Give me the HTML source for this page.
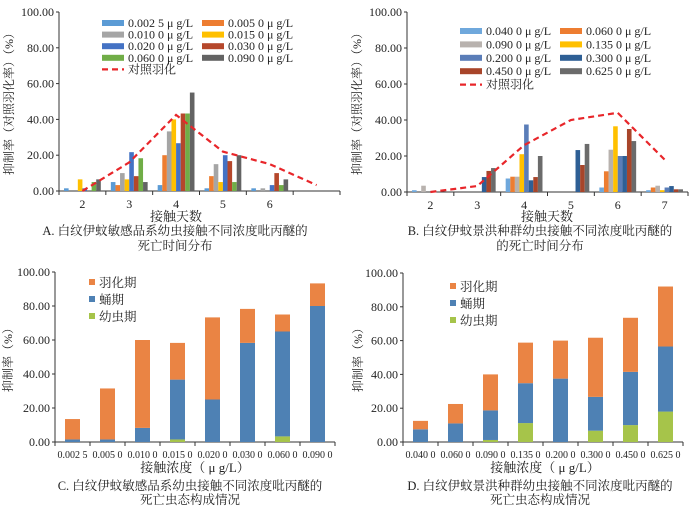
<!DOCTYPE html>
<html><head><meta charset="utf-8"><style>
html,body{margin:0;padding:0;background:#fff;}
svg{display:block;font-family:"Liberation Serif","Noto Serif CJK SC",serif;}
</style></head><body>
<svg id="fig" width="700" height="508" viewBox="0 0 700 508"></svg>
<script>
const aDays=["2","3","4","5","6",""];
const aSeriesNames=["0.002 5 μ g/L","0.005 0 μ g/L","0.010 0 μ g/L","0.015 0 μ g/L","0.020 0 μ g/L","0.030 0 μ g/L","0.060 0 μ g/L","0.090 0 μ g/L"];
const aValues=[
 [1.5,5,3.3,1.5,1.5,0],
 [0,3.3,20,8.3,0,0],
 [0,10,33.3,15,1.5,0],
 [6.5,6.5,40,5,0,0],
 [1.5,21.7,26.7,20,3.3,0],
 [0,8.3,43.3,16.7,10,0],
 [5,18.3,43.3,5,3.3,0],
 [6.5,5,55,20,6.5,0]];
const aControl=[0,16,42.5,22,15,3.3];
const bDays=["2","3","4","5","6","7"];
const bSeriesNames=["0.040 0 μ g/L","0.060 0 μ g/L","0.090 0 μ g/L","0.135 0 μ g/L","0.200 0 μ g/L","0.300 0 μ g/L","0.450 0 μ g/L","0.625 0 μ g/L"];
const bValues=[
 [1,0,7.5,0,2.5,1],
 [0,0,8.5,0,11.5,2.5],
 [3.5,0,8.5,0,23.5,3.5],
 [0,0,21,0,36.5,1],
 [0,0,37.5,0,20,2.5],
 [0,8.3,6.5,23.3,20,3.3],
 [0,11.7,8.3,15,35,1.5],
 [0,13.3,20,26.7,28.3,1.5]];
const bControl=[0,3.3,26,40,44,18];
const cCats=["0.002 5","0.005 0","0.010 0","0.015 0","0.020 0","0.030 0","0.060 0","0.090 0"];
const cLarva=[0,0,0,1.5,0,0,3.3,0];
const cPupa=[1.5,1.5,8.3,35.2,25,58.3,61.7,80];
const cEmerge=[12,30,51.7,21.6,48.3,20,10,13.3];
const dCats=["0.040 0","0.060 0","0.090 0","0.135 0","0.200 0","0.300 0","0.450 0","0.625 0"];
const dLarva=[0,0,1.2,11.2,0,6.7,10,18];
const dPupa=[7.5,11,17.5,23.6,37.5,20,31.5,38.5];
const dEmerge=[5,11.5,21.3,24,22.5,35,32,35.5];
const yTicks=["0.00","20.00","40.00","60.00","80.00","100.00"];

const NS="http://www.w3.org/2000/svg";
const svg=document.getElementById("fig");
function el(tag,attrs,parent,text){const e=document.createElementNS(NS,tag);for(const k in attrs)e.setAttribute(k,attrs[k]);if(text!==undefined)e.textContent=text;(parent||svg).appendChild(e);return e;}
const colA=["#5B9BD5","#ED7D31","#A5A5A5","#FFC000","#4472C4","#B5472B","#70AD47","#636363"];
const colB=["#6FA8DC","#ED7D31","#B8B2AE","#FFC000","#5A7DB8","#2E5F95","#A8452A","#6B6B6B"];
const stackCol=["#A6C44A","#4E81B4","#EA8444"];

function axes(g,x0,x1,yTop,yBot,nCat,cats,labY,fit){
  const ys=v=>yBot-(yBot-yTop)*v/100;
  const ax=el("line",{x1:x0,y1:yTop,x2:x0,y2:yBot,stroke:"#333","stroke-width":1},g);
  
  
  yTicks.forEach((t,i)=>{const v=i*20,y=ys(v);
    el("line",{x1:x0-3,y1:y,x2:x0,y2:y,stroke:"#333"},g);
    const tl=el("text",{x:x0-5,y:y+4,"text-anchor":"end","font-size":12,fill:"#222"},g,t);
    
    });
  const xa=el("line",{x1:x0,y1:yBot,x2:x1,y2:yBot,stroke:"#333"},g);
  
  
  const W=(x1-x0)/nCat;
  for(let i=0;i<=nCat;i++)el("line",{x1:x0+i*W,y1:yBot,x2:x0+i*W,y2:yBot+4,stroke:"#333"},g);
  cats.forEach((c,i)=>{const at={x:x0+(i+0.5)*W,y:labY,"text-anchor":"middle","font-size":fit?11:12,fill:"#222"};
    if(fit&&c){at.textLength=30;at.lengthAdjust="spacingAndGlyphs";}
    const tl=el("text",at,g,c);
    
    });
  return {ys,W};
}
function ylabel(g,x,y,t){const e=el("text",{x:x,y:y,"text-anchor":"middle","font-size":12,fill:"#222",transform:`rotate(-90 ${x} ${y})`},g,t);
  
  }
function txt(g,x,y,t,name,size){const e=el("text",{x:x,y:y,"text-anchor":"middle","font-size":size||12.5,fill:"#222"},g,t);
  
  }

function grouped(name,x0,x1,yTop,yBot,cats,vals,ctrl,cols,names,leg){
  const g=el("g",{},svg);
  
  
  const {ys,W}=axes(g,x0,x1,yTop,yBot,cats.length,cats,yBot+17,false);
  const bw=4.6,n=vals.length;
  vals.forEach((s,si)=>s.forEach((v,ci)=>{if(v<=0)return;
    const cx=x0+(ci+0.5)*W-n*bw/2+si*bw;
    const r=el("rect",{x:cx,y:ys(v),width:bw,height:ys(0)-ys(v),fill:cols[si]},g);
    
    }));
  const pts=ctrl.map((v,i)=>`${x0+(i+0.5)*W},${ys(v)}`).join(" ");
  const pl=el("polyline",{points:pts,fill:"none",stroke:"#E8262A","stroke-width":2.2,"stroke-dasharray":"6,4"},g);
  
  
  names.forEach((nm,i)=>{const col=i%2,row=Math.floor(i/2);
    const sx=leg.x+col*leg.dx,y=leg.y+row*leg.dy;
    el("rect",{x:sx,y:y-3,width:22,height:6,fill:cols[i]},g);
    const t=el("text",{x:sx+26,y:y+4,"font-size":12,fill:"#222"},g,nm);
    
    });
  const ly=leg.y+4*leg.dy;
  el("line",{x1:leg.x,y1:ly,x2:leg.x+22,y2:ly,stroke:"#E8262A","stroke-width":2.2,"stroke-dasharray":"6,4"},g);
  const lt=el("text",{x:leg.x+26,y:ly+4,"font-size":12,fill:"#222"},g,"对照羽化");
  
  
  return g;
}
function stacked(name,x0,x1,yTop,yBot,cats,layers,leg){
  const g=el("g",{},svg);
  
  
  const {ys,W}=axes(g,x0,x1,yTop,yBot,cats.length,cats,yBot+16,true);
  cats.forEach((c,ci)=>{let base=0;
    layers.forEach((L,li)=>{const v=L[ci];if(v>0){
      const r=el("rect",{x:x0+(ci+0.5)*W-7.5,y:ys(base+v),width:15,height:ys(base)-ys(base+v),fill:stackCol[li]},g);
      
      }
      base+=v;});});
  ["羽化期","蛹期","幼虫期"].forEach((nm,i)=>{const y=leg.y+i*17;
    el("rect",{x:leg.x,y:y-3,width:6,height:6,fill:stackCol[2-i]},g);
    const t=el("text",{x:leg.x+10,y:y+5,"font-size":12.5,fill:"#222"},g,nm);
    
    });
  return g;
}
const gA=grouped("chart-a",59,340,12,191,aDays,aValues,aControl,colA,aSeriesNames,{x:102,y:23,dx:100,dy:11.6});
ylabel(gA,13,101,"抑制率（对照羽化率）（%）");
txt(gA,176,221,"接触天数","x-axis-title",13);
txt(gA,175,235,"A. 白纹伊蚊敏感品系幼虫接触不同浓度吡丙醚的","caption-a");
txt(gA,175,250,"死亡时间分布","caption-a-line2");
const gB=grouped("chart-b",407,688,12,192,bDays,bValues,bControl,colB,bSeriesNames,{x:460,y:31,dx:100,dy:13.4});
ylabel(gB,361,101,"抑制率（对照羽化率）（%）");
txt(gB,547,221,"接触天数","x-axis-title",13);
txt(gB,540,235,"B. 白纹伊蚊景洪种群幼虫接触不同浓度吡丙醚的","caption-b");
txt(gB,540,250,"的死亡时间分布","caption-b-line2");
const gC=stacked("chart-c",55,335,272,442,cCats,[cLarva,cPupa,cEmerge],{x:89,y:282});
ylabel(gC,12,357,"抑制率（%）");
txt(gC,195,472,"接触浓度（ μ g/L）","x-axis-title",13);
txt(gC,190,490,"C. 白纹伊蚊敏感品系幼虫接触不同浓度吡丙醚的","caption-c");
txt(gC,190,504,"死亡虫态构成情况","caption-c-line2");
const gD=stacked("chart-d",403,683,273,442,dCats,[dLarva,dPupa,dEmerge],{x:450,y:286});
ylabel(gD,362,357,"抑制率（%）");
txt(gD,545,472,"接触浓度（ μ g/L）","x-axis-title",13);
txt(gD,540,490,"D. 白纹伊蚊景洪种群幼虫接触不同浓度吡丙醚的","caption-d");
txt(gD,540,504,"死亡虫态构成情况","caption-d-line2");
</script>
</body></html>
